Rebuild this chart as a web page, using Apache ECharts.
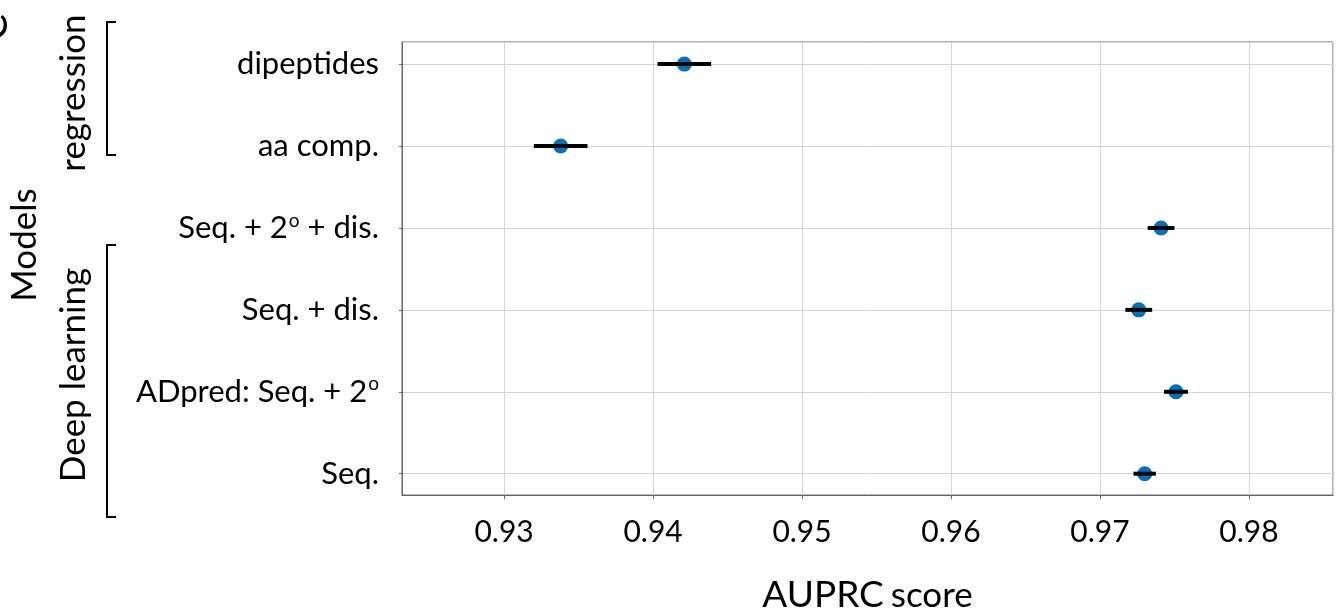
<!DOCTYPE html>
<html>
<head>
<meta charset="utf-8">
<script src="https://cdn.jsdelivr.net/npm/echarts@6/dist/echarts.min.js"></script>
<style>
  html, body { margin: 0; padding: 0; background: #fff; }
  #chart { width: 1339px; height: 615px; }
</style>
</head>
<body>
<div id="chart"></div>
<script>
// models, top to bottom
const models = ['dipeptides', 'aa comp.', 'Seq. + 2o + dis.', 'Seq. + dis.', 'ADpred: Seq. + 2o', 'Seq.'];
// AUPRC score (mean) and half width of the error bar
const auprc = [0.9421, 0.9338, 0.9741, 0.9726, 0.9751, 0.9730];
const errHalf = [0.0018, 0.0018, 0.0009, 0.0009, 0.0008, 0.00075];
const xTicks = [0.93, 0.94, 0.95, 0.96, 0.97, 0.98];

const FONT = 'Lato';
const BLUE = '#0072bd';

const chart = echarts.init(document.getElementById('chart'));

const points = auprc.map((v, i) => [v, i]);
const bars = auprc.map((v, i) => [v - errHalf[i], v + errHalf[i], i]);

// write the "2o" with a raised small o
function modelLabel(val) {
  const i = Math.round(val);
  if (Math.abs(val - i) > 1e-6 || i < 0 || i >= models.length) return '';
  return models[i].replace('2o', '2{sup|o}');
}

chart.setOption({
  animation: false,
  textStyle: { fontFamily: FONT, color: '#000' },
  grid: {
    left: 402, right: 6, top: 42, bottom: 120,
    outerBoundsMode: 'none',
    show: true, borderColor: '#666', borderWidth: 1
  },
  xAxis: {
    type: 'value',
    min: 0.92315,
    max: 0.98564,
    splitNumber: 6,
    axisLine: { show: true, onZero: false, lineStyle: { color: '#666' } },
    axisTick: { show: true, length: 4, lineStyle: { color: '#666' } },
    splitLine: { show: true, lineStyle: { color: '#d4d4d4' } },
    axisLabel: {
      showMinLabel: false, showMaxLabel: false,
      fontFamily: FONT, fontSize: 30, color: '#000', margin: 22,
      formatter: v => xTicks.some(t => Math.abs(t - v) < 1e-6) ? v.toFixed(2) : ''
    },
    name: '{big|AUPRC}{gap|}{small|score}',
    nameLocation: 'middle',
    nameGap: 82,
    nameTextStyle: {
      rich: {
        big: { fontFamily: FONT, fontSize: 37, color: '#000' },
        gap: { width: 7 },
        small: { fontFamily: FONT, fontSize: 35, color: '#000' }
      }
    }
  },
  yAxis: {
    type: 'value',
    inverse: true,
    min: -0.27,
    max: 5.26,
    axisLine: { show: true, onZero: false, lineStyle: { color: '#666' } },
    axisTick: { show: true, length: 3, lineStyle: { color: '#666' } },
    splitLine: { show: true, lineStyle: { color: '#d4d4d4' } },
    axisLabel: {
      showMinLabel: false, showMaxLabel: false,
      fontFamily: FONT, fontSize: 31, color: '#000', margin: 23, lineHeight: 34,
      formatter: modelLabel,
      rich: {
        sup: { fontFamily: FONT, fontSize: 19, color: '#000', verticalAlign: 'top', lineHeight: 34, padding: [0, 0, 0, 1] }
      }
    }
  },
  graphic: [
    { type: 'text', left: -26, top: 14, rotation: Math.PI / 2,
      style: { text: 'C', fontFamily: FONT, fontSize: 40, fill: '#000' } },
    { type: 'text', x: 25, y: 245, rotation: Math.PI / 2,
      style: { text: 'Models', fontFamily: FONT, fontSize: 35, fill: '#000', align: 'center', verticalAlign: 'middle' } },
    { type: 'text', x: 74, y: 93, rotation: Math.PI / 2,
      style: { text: 'regression', fontFamily: FONT, fontSize: 35, fill: '#000', align: 'center', verticalAlign: 'middle' } },
    { type: 'text', x: 74, y: 375, rotation: Math.PI / 2,
      style: { text: 'Deep learning', fontFamily: FONT, fontSize: 35, fill: '#000', align: 'center', verticalAlign: 'middle' } },
    { type: 'polyline', shape: { points: [[116, 22], [107, 22], [107, 155], [116, 155]] },
      style: { stroke: '#000', lineWidth: 2, fill: null } },
    { type: 'polyline', shape: { points: [[116, 245], [107, 245], [107, 517], [116, 517]] },
      style: { stroke: '#000', lineWidth: 2, fill: null } }
  ],
  series: [
    {
      type: 'scatter',
      data: points,
      symbol: 'circle',
      symbolSize: 15,
      itemStyle: { color: BLUE, opacity: 1 },
      z: 2
    },
    {
      type: 'custom',
      data: bars,
      z: 3,
      renderItem: (params, api) => {
        const a = api.coord([api.value(0), api.value(2)]);
        const b = api.coord([api.value(1), api.value(2)]);
        return {
          type: 'line',
          shape: { x1: a[0], y1: a[1], x2: b[0], y2: b[1] },
          style: { stroke: '#000', lineWidth: 4 }
        };
      }
    }
  ]
});
</script>
</body>
</html>
